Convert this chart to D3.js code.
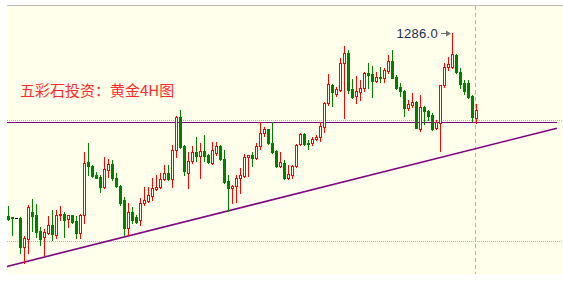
<!DOCTYPE html>
<html lang="zh">
<head>
<meta charset="UTF-8">
<title>黄金4H图</title>
<script src="https://cdn.jsdelivr.net/npm/d3@7"></script>
<style>
    body { margin: 0; background: #fff; }
    svg { display: block; }
</style>
</head>
<body>
<script>
// 4H candles, oldest first (prices)
const opens  = [1210.3,1209.9,1209.4,1209.6,1197.6,1200.7,1212.0,1210.7,1204.1,1201.8,
                1203.4,1206.5,1202.5,1210.6,1211.0,1209.2,1210.6,1208.1,1203.4,1210.6,
                1232.5,1231.0,1227.3,1226.6,1222.4,1229.3,1231.8,1226.2,1222.7,1216.9,
                1205.3,1211.9,1209.8,1208.7,1215.6,1216.7,1218.6,1221.5,1222.4,1225.5,
                1228.2,1225.5,1237.6,1251.4,1239.3,1228.2,1233.1,1236.9,1235.3,1237.2,
                1235.5,1232.1,1236.5,1239.3,1233.8,1224.9,1222.0,1222.9,1225.9,1226.9,
                1234.6,1235.5,1234.2,1239.3,1244.5,1246.2,1240.6,1237.3,1231.0,1232.1,
                1225.9,1227.3,1231.0,1240.1,1244.2,1240.6,1240.4,1242.0,1242.9,1247.2,
                1256.9,1264.5,1260.7,1262.4,1273.4,1277.6,1262.8,1259.9,1261.7,1263.1,
                1269.3,1268.9,1266.2,1267.9,1267.5,1270.3,1274.4,1267.9,1263.8,1262.0,
                1254.8,1256.2,1257.6,1246.3,1255.5,1253.7,1252.1,1246.6,1248.6,1264.5,
                1272.0,1272.0,1276.9,1270.0,1265.4,1265.2,1260.0,1250.7];
const highs  = [1214.5,1210.0,1209.4,1210.0,1202.2,1214.9,1217.2,1215.2,1205.9,1205.0,
                1210.3,1212.8,1212.8,1214.5,1212.1,1210.6,1210.8,1210.3,1211.2,1236.7,
                1240.4,1231.4,1228.6,1227.3,1234.8,1233.8,1233.5,1228.0,1223.1,1218.1,
                1215.7,1214.2,1210.7,1217.6,1222.4,1222.4,1225.9,1227.3,1228.0,1231.4,
                1231.4,1239.7,1251.7,1254.1,1239.5,1236.9,1239.3,1243.1,1240.4,1243.8,
                1235.8,1240.8,1241.0,1239.7,1237.6,1227.3,1223.1,1227.3,1230.0,1236.0,
                1235.5,1236.9,1240.4,1249.3,1247.0,1246.4,1249.3,1237.6,1236.9,1233.5,
                1231.4,1231.4,1240.0,1244.8,1244.5,1241.7,1243.1,1243.8,1249.3,1257.6,
                1268.9,1264.7,1263.8,1275.7,1280.6,1278.9,1266.9,1268.3,1266.5,1269.7,
                1273.4,1272.3,1270.0,1272.0,1271.4,1276.9,1278.9,1268.6,1265.2,1262.4,
                1258.3,1261.0,1257.9,1260.3,1255.8,1254.1,1252.8,1250.0,1264.5,1273.4,
                1276.2,1286.0,1277.1,1271.4,1266.5,1266.5,1260.3,1256.5];
const lows   = [1208.7,1202.5,1209.4,1195.2,1191.0,1195.2,1204.3,1201.8,1198.4,1194.2,
                1202.9,1200.4,1201.1,1208.7,1201.8,1205.7,1207.3,1201.1,1201.1,1207.3,
                1227.3,1226.6,1225.9,1220.4,1221.9,1226.6,1225.2,1222.4,1214.9,1202.5,
                1202.5,1207.3,1207.3,1206.6,1214.9,1216.2,1216.9,1221.1,1221.8,1225.2,
                1225.2,1222.4,1234.8,1238.6,1227.3,1221.8,1232.1,1233.1,1225.9,1233.1,
                1232.4,1231.8,1235.5,1233.5,1224.1,1212.4,1215.6,1216.0,1219.7,1226.3,
                1226.9,1231.0,1233.9,1237.9,1243.4,1240.1,1236.5,1230.7,1230.7,1225.5,
                1225.5,1225.9,1230.7,1239.7,1239.7,1238.0,1239.7,1241.7,1241.3,1245.2,
                1256.2,1255.9,1260.0,1262.1,1250.9,1261.0,1259.2,1257.1,1258.3,1262.0,
                1263.1,1259.6,1265.8,1265.8,1265.8,1269.5,1267.2,1262.8,1260.0,1251.8,
                1254.1,1255.5,1246.6,1245.5,1248.2,1250.0,1245.9,1246.3,1237.2,1263.8,
                1270.7,1271.6,1269.3,1263.1,1260.6,1259.2,1249.6,1248.9];
const closes = [1209.1,1209.3,1209.4,1197.6,1201.2,1214.2,1210.3,1203.8,1200.7,1203.6,
                1206.5,1202.8,1210.7,1211.0,1208.7,1210.6,1208.0,1203.4,1210.6,1232.4,
                1231.1,1226.9,1226.2,1222.4,1229.8,1231.8,1225.9,1222.7,1215.6,1205.3,
                1211.8,1208.7,1208.0,1215.6,1216.9,1218.9,1221.9,1222.4,1225.7,1228.2,
                1225.5,1237.6,1251.4,1239.0,1228.9,1233.1,1236.9,1235.3,1237.2,1235.1,
                1232.8,1237.6,1239.3,1233.8,1224.5,1222.0,1222.9,1225.9,1227.3,1234.6,
                1235.5,1234.4,1239.3,1244.8,1246.2,1240.4,1236.9,1231.0,1232.8,1225.9,
                1227.7,1231.0,1239.7,1244.2,1240.1,1240.0,1242.0,1243.0,1247.5,1256.9,
                1264.8,1261.4,1262.8,1273.4,1277.6,1262.4,1259.6,1262.0,1263.1,1269.3,
                1268.6,1266.1,1267.9,1267.5,1270.7,1274.4,1267.5,1263.3,1262.0,1254.8,
                1256.5,1257.6,1246.8,1255.5,1253.7,1251.8,1246.3,1249.1,1264.5,1272.0,
                1273.0,1277.1,1270.0,1264.8,1262.0,1259.6,1251.2,1254.1];

const gridPrices = [1250, 1200];
const resistance = 1249.0;
// support trend line: [candle index, price]
const trendLine = [[-0.375, 1189.5], [137.1, 1246.6]];
const titleText = "五彩石投资：黄金4H图";
const peakIndex = 111;

const w = 563, h = 286;
const bg = "#ffffec";
const pL = 7, pT = 5, pR = 563, pB = 274;

const svg = d3.select("body").append("svg")
    .attr("width", w)
    .attr("height", h);

svg.append("rect")
    .attr("x", pL).attr("y", pT)
    .attr("width", pR - pL).attr("height", pB - pT)
    .attr("fill", bg);

svg.append("line")
    .attr("x1", pL).attr("x2", pR)
    .attr("y1", pT + 0.5).attr("y2", pT + 0.5)
    .attr("stroke", "#bdbdb5");

let x = d3.scaleLinear().domain([0, opens.length - 1]).range([8.5, 476.5]);
let y = d3.scaleLinear().domain([1200, 1250]).range([241, 120]);
let py = v => Math.round(y(v));

// dotted grid
svg.selectAll(".grid")
    .data(gridPrices)
    .enter()
    .append("line")
    .attr("x1", pL).attr("x2", pR)
    .attr("y1", d => py(d) + 0.5).attr("y2", d => py(d) + 0.5)
    .attr("stroke", "#b4b4b4")
    .attr("stroke-dasharray", "1,1");

// current bar marker
let lastX = x(opens.length - 1) - 1;
svg.append("line")
    .attr("x1", lastX).attr("x2", lastX)
    .attr("y1", pT + 1).attr("y2", pB)
    .attr("stroke", "#b4b4b4")
    .attr("stroke-dasharray", "4,3");

// resistance
svg.append("line")
    .attr("x1", pL).attr("x2", 557)
    .attr("y1", py(resistance) + 0.5).attr("y2", py(resistance) + 0.5)
    .attr("stroke", "#800080");

// trend line
svg.append("line")
    .attr("x1", x(trendLine[0][0])).attr("y1", y(trendLine[0][1]))
    .attr("x2", x(trendLine[1][0])).attr("y2", y(trendLine[1][1]))
    .attr("stroke", "#800080")
    .attr("stroke-width", 1.6);

let candles = opens.map((o, i) => ({ i: i, o: o, h: highs[i], l: lows[i], c: closes[i] }));
let colorOf = d => d.c > d.o ? "#ff0000" : (d.c < d.o ? "#008000" : "#000000");

let g = svg.append("g").attr("shape-rendering", "crispEdges");

g.selectAll(".wick")
    .data(candles)
    .enter()
    .append("rect")
    .attr("x", d => x(d.i) - 0.5)
    .attr("y", d => py(d.h))
    .attr("width", 1)
    .attr("height", d => py(d.l) - py(d.h) + 1)
    .attr("fill", colorOf);

// down bars: filled green
g.selectAll(".down")
    .data(candles.filter(d => d.c <= d.o))
    .enter()
    .append("rect")
    .attr("x", d => x(d.i) - 1.5)
    .attr("y", d => py(d.o))
    .attr("width", 3)
    .attr("height", d => py(d.c) - py(d.o) + 1)
    .attr("fill", colorOf);

// up bars: hollow red
g.selectAll(".up")
    .data(candles.filter(d => d.c > d.o))
    .enter()
    .append("rect")
    .attr("x", d => x(d.i) - 1)
    .attr("y", d => py(d.c) + 0.5)
    .attr("width", 2)
    .attr("height", d => Math.max(1, py(d.o) - py(d.c)))
    .attr("fill", bg)
    .attr("stroke", "#ff0000");

// title
svg.append("text")
    .attr("x", 20).attr("y", 96)
    .attr("fill", "#ff2a2a")
    .style("font-family", "'Noto Sans CJK SC', sans-serif")
    .style("font-size", "15px")
    .text(titleText);

// peak label with arrow
let pk = candles[peakIndex];
let pkY = py(pk.h) + 0.5;
svg.append("text")
    .attr("x", 438).attr("y", pkY + 4.5)
    .attr("text-anchor", "end")
    .attr("fill", "#1c2b55")
    .style("font-family", "'Liberation Sans', sans-serif")
    .style("font-size", "13px")
    .style("letter-spacing", "0.3px")
    .text(pk.h.toFixed(1));

let ax = x(peakIndex) - 1.5;
svg.append("line")
    .attr("x1", 441).attr("x2", ax - 2)
    .attr("y1", pkY).attr("y2", pkY)
    .attr("stroke", "#707070");
svg.append("path")
    .attr("d", `M${ax},${pkY} L${ax - 5},${pkY - 3} L${ax - 5},${pkY + 3} Z`)
    .attr("fill", "#707070");
</script>
</body>
</html>
